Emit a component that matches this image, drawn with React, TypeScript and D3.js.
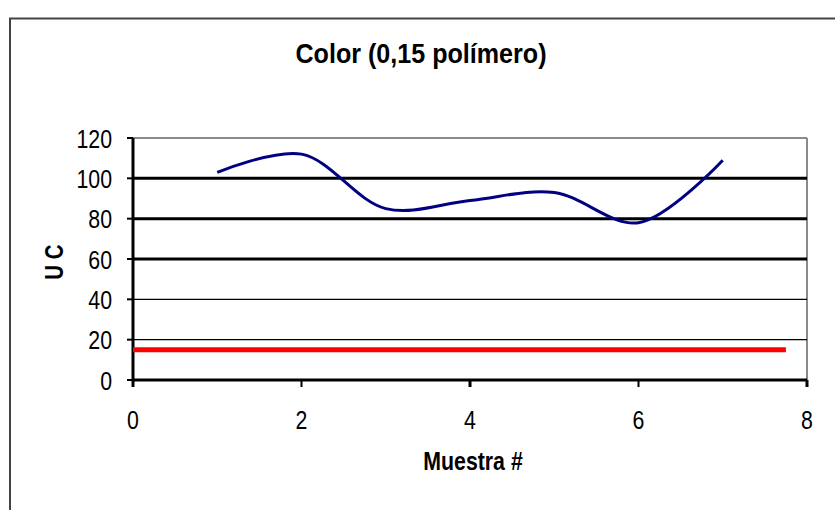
import React from "react";
import * as d3 from "d3";

const muestra = [1, 2, 3, 4, 5, 6, 7];
const colorUC = [103, 112, 85, 89, 93, 78, 109];
const limiteX = [0, 7.75];
const limiteY = [15, 15];
const yTicks = [0, 20, 40, 60, 80, 100, 120];
const xTicks = [0, 2, 4, 6, 8];
const thickGrid = [60, 80, 100];
const thinGrid = [20, 40];

const W = 835;
const H = 510;
const FONT = "'Liberation Sans', Arial, sans-serif";
const NARROW = 0.82;

function NText(props: {
  x: number;
  y: number;
  anchor: "start" | "middle" | "end";
  size: number;
  bold?: boolean;
  rotate?: number;
  sx?: number;
  children: React.ReactNode;
}) {
  const { x, y, anchor, size, bold, rotate, sx, children } = props;
  const t = `translate(${x},${y})${rotate ? ` rotate(${rotate})` : ""} scale(${sx ?? NARROW},1)`;
  return (
    <text
      transform={t}
      textAnchor={anchor}
      fontFamily={FONT}
      fontWeight={bold ? "bold" : "normal"}
      fontSize={size}
      fill="#000"
    >
      {children}
    </text>
  );
}

export default function App() {
  const x = d3.scaleLinear().domain([0, 8]).range([133, 807]);
  const y = d3.scaleLinear().domain([0, 120]).range([380, 138]);

  const line = d3
    .line<number>()
    .x((_, i) => x(muestra[i]))
    .y((d) => y(d))
    .curve(d3.curveCatmullRom.alpha(0.5));

  const redLine = d3
    .line<number>()
    .x((_, i) => x(limiteX[i]))
    .y((d) => y(d));

  return (
    <svg
      width={W}
      height={H}
      style={{ position: "absolute", left: 0, top: 0, background: "#fff" }}
    >
      <rect x={0} y={0} width={W} height={H} fill="#fff" />
      <path d={`M10,${H + 5} L10,18.5 L${W + 5},18.5`} fill="none" stroke="#444" strokeWidth={2} />

      <NText x={421} y={63} anchor="middle" size={27} bold sx={0.93}>
        Color (0,15 polímero)
      </NText>

      <line x1={x(0)} x2={x(8)} y1={y(120)} y2={y(120)} stroke="#8a8a8a" strokeWidth={2} />
      <line x1={x(8)} x2={x(8)} y1={y(120)} y2={y(0)} stroke="#8a8a8a" strokeWidth={2} />

      {thinGrid.map((v) => (
        <line key={"tg" + v} x1={x(0)} x2={x(8)} y1={y(v)} y2={y(v)} stroke="#000" strokeWidth={1.3} />
      ))}
      {thickGrid.map((v) => (
        <line key={"g" + v} x1={x(0)} x2={x(8)} y1={y(v)} y2={y(v)} stroke="#000" strokeWidth={3} />
      ))}

      <line x1={x(0)} x2={x(0)} y1={y(120)} y2={y(0) + 1.5} stroke="#000" strokeWidth={3} />
      <line x1={x(0)} x2={x(8)} y1={y(0)} y2={y(0)} stroke="#000" strokeWidth={3} />

      {yTicks.map((v) => (
        <g key={"yt" + v}>
          <line x1={x(0) - 6} x2={x(0)} y1={y(v)} y2={y(v)} stroke="#000" strokeWidth={2} />
          <NText x={x(0) - 21} y={y(v) + 9.5} anchor="end" size={26}>
            {v}
          </NText>
        </g>
      ))}
      {xTicks.map((v) => (
        <g key={"xt" + v}>
          <line x1={x(v)} x2={x(v)} y1={y(0)} y2={y(0) + 7} stroke="#000" strokeWidth={v % 4 === 0 ? 3 : 2} />
          <NText x={x(v)} y={y(0) + 49} anchor="middle" size={26}>
            {v}
          </NText>
        </g>
      ))}

      <NText x={473} y={470} anchor="middle" size={26} bold>
        Muestra #
      </NText>
      <NText x={63} y={262} anchor="middle" size={25} bold rotate={-90}>
        U C
      </NText>

      <path d={redLine(limiteY) || ""} fill="none" stroke="#ff0000" strokeWidth={5} />
      <path d={line(colorUC) || ""} fill="none" stroke="#000080" strokeWidth={3} />
    </svg>
  );
}
